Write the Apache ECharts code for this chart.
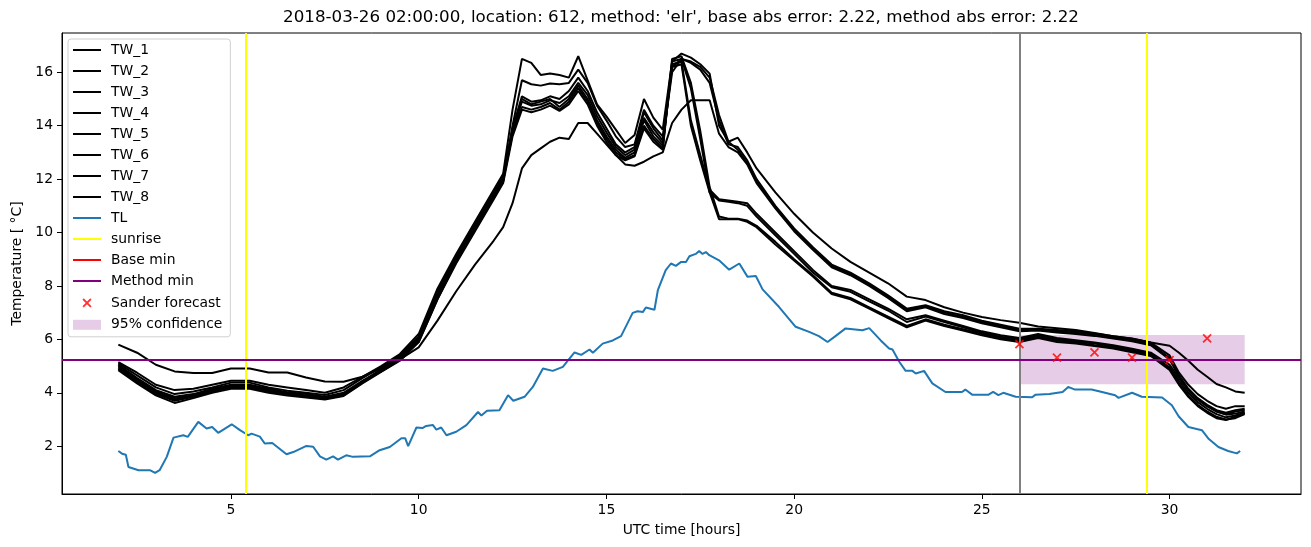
<!DOCTYPE html>
<html>
<head>
<meta charset="utf-8">
<script src="https://cdn.jsdelivr.net/npm/echarts@6/dist/echarts.min.js"></script>
<style>html,body{margin:0;padding:0;background:#fff}#c{width:1311px;height:547px}</style>
</head>
<body>
<div id="c"></div>
<script>
// ---- data ----
const hours = [2,2.5,3,3.5,4,4.5,5,5.5,6,6.5,7,7.5,8,8.5,9,9.5,
  10,10.5,11,11.5,12,
  12.25,12.5,12.75,13,13.25,13.5,13.75,14,14.25,14.5,14.75,15,15.25,15.5,15.75,16,16.25,16.5,16.75,17,17.25,17.5,17.75,18,18.25,18.5,18.75,19,
  19.5,20,20.5,21,21.5,22,22.5,23,23.5,24,24.5,25,25.5,26,26.5,27,27.5,28,28.5,29,29.5,
  30,30.25,30.5,30.75,31,31.25,31.5,31.75,32];

const TW_1 = [5.8,5.5,5.05,4.8,4.74,4.74,4.91,4.91,4.76,4.76,4.57,4.42,4.41,4.6,4.92,5.25,
  5.9,7.5,8.9,10.1,11.3,
  11.9,14.0,15.7,15.55,15.5,15.58,15.55,15.6,16.1,15.6,14.75,14.2,13.6,13.2,13.3,14.6,14.0,13.6,16.2,16.5,16.35,16.1,15.6,14.2,13.3,13.2,12.7,12.0,
  11.0,10.15,9.45,8.8,8.5,8.1,7.65,7.15,7.28,7.05,6.9,6.7,6.55,6.4,6.4,6.35,6.3,6.22,6.12,6.02,5.88,
  5.4,4.75,4.3,3.95,3.7,3.5,3.4,3.5,3.5];
const TW_2 = [5.15,4.75,4.3,4.1,4.15,4.3,4.45,4.45,4.3,4.2,4.1,4.0,4.2,4.6,5.0,5.45,
  6.2,7.9,9.2,10.4,11.6,
  12.2,14.6,16.5,16.35,15.9,15.95,15.9,15.8,16.6,15.7,14.8,14.35,13.85,13.35,13.65,15.0,14.3,13.85,16.4,16.7,16.55,16.3,15.95,14.0,13.4,13.55,13.0,12.4,
  11.5,10.7,10.0,9.4,8.9,8.5,8.1,7.6,7.47,7.2,7.0,6.84,6.72,6.62,6.48,6.42,6.35,6.24,6.12,6.03,5.88,
  5.76,5.5,5.2,4.86,4.6,4.33,4.2,4.05,4.0];
const TW_3 = [5.1,4.65,4.2,3.95,4.05,4.2,4.38,4.38,4.2,4.08,4.0,3.92,4.1,4.55,4.95,5.4,
  6.1,7.8,9.1,10.3,11.5,
  12.1,13.9,15.1,14.9,14.95,15.1,15.0,15.3,15.8,15.3,14.5,13.9,13.3,13.0,13.2,14.5,13.9,13.45,16.0,16.5,16.4,16.2,15.8,14.4,13.4,13.1,12.6,11.9,
  10.95,10.1,9.4,8.75,8.45,8.05,7.6,7.1,7.25,7.0,6.85,6.65,6.5,6.35,6.38,6.3,6.25,6.18,6.08,5.98,5.82,
  5.3,4.65,4.15,3.8,3.55,3.35,3.25,3.35,3.4];
const TW_4 = [5.05,4.55,4.1,3.85,3.95,4.15,4.3,4.3,4.15,4.02,3.95,3.85,4.0,4.45,4.85,5.25,
  5.7,6.7,7.8,8.8,9.7,
  10.2,11.1,12.4,12.9,13.15,13.4,13.55,13.5,14.1,14.1,13.7,13.3,12.9,12.55,12.5,12.65,12.85,13.0,14.1,14.6,14.95,14.95,14.95,13.7,13.2,13.0,12.55,11.85,
  10.9,10.05,9.35,8.7,8.4,8.0,7.55,7.05,7.2,6.95,6.8,6.6,6.45,6.3,6.33,6.26,6.2,6.13,6.03,5.93,5.78,
  5.25,4.6,4.1,3.75,3.5,3.3,3.2,3.3,3.35];
const TW_5 = [5.0,4.5,4.05,3.8,3.9,4.1,4.25,4.25,4.1,3.98,3.9,3.82,3.95,4.4,4.85,5.3,
  6.0,7.7,9.0,10.2,11.4,
  12.0,13.8,14.9,14.75,14.8,14.95,14.85,15.1,15.6,15.15,14.35,13.75,13.2,12.9,13.1,14.3,13.75,13.35,16.3,16.4,14.2,12.9,11.6,11.25,11.2,11.15,11.1,10.7,
  10.0,9.3,8.6,8.0,7.85,7.5,7.15,6.75,6.9,6.7,6.5,6.3,6.15,6.05,6.2,6.05,5.97,5.88,5.78,5.65,5.5,
  5.05,4.55,4.1,3.75,3.5,3.3,3.18,3.22,3.3];
const TW_6 = [4.95,4.45,4.0,3.75,3.88,4.08,4.22,4.22,4.08,3.96,3.87,3.8,3.92,4.42,4.88,5.35,
  6.05,7.75,9.05,10.25,11.45,
  12.05,13.85,15.0,14.8,14.9,15.0,14.7,15.0,15.5,15.0,14.2,13.6,13.1,12.8,13.0,14.2,13.6,13.25,16.2,16.3,14.0,12.7,11.5,11.2,11.15,11.1,11.0,10.6,
  9.9,9.2,8.5,7.95,7.78,7.42,7.08,6.65,6.85,6.65,6.45,6.25,6.1,6.0,6.15,6.0,5.92,5.84,5.74,5.6,5.45,
  4.95,4.45,4.0,3.65,3.4,3.2,3.08,3.15,3.25];
const TW_7 = [4.9,4.4,3.95,3.7,3.85,4.05,4.2,4.2,4.05,3.95,3.85,3.78,3.9,4.38,4.8,5.22,
  5.95,7.6,8.95,10.15,11.35,
  11.95,13.7,14.7,14.6,14.7,14.85,14.6,14.9,15.4,14.9,14.1,13.5,13.0,12.75,12.9,14.0,13.5,13.15,16.5,16.6,15.6,13.8,11.7,10.6,10.52,10.52,10.45,10.25,
  9.65,9.0,8.4,7.75,7.55,7.2,6.85,6.5,6.75,6.55,6.38,6.2,6.05,5.95,6.1,5.95,5.88,5.78,5.7,5.55,5.42,
  4.9,4.35,3.9,3.55,3.3,3.1,3.0,3.05,3.2];
const TW_8 = [4.85,4.35,3.9,3.62,3.8,4.0,4.15,4.15,4.0,3.9,3.82,3.75,3.88,4.35,4.78,5.2,
  5.9,7.5,8.85,10.05,11.25,
  11.85,13.6,14.6,14.5,14.6,14.75,14.55,14.8,15.3,14.8,14.0,13.4,12.9,12.7,12.85,13.9,13.4,13.1,16.4,16.5,15.4,13.5,11.5,10.5,10.5,10.5,10.4,10.2,
  9.55,8.95,8.35,7.7,7.5,7.15,6.8,6.45,6.7,6.5,6.33,6.15,6.0,5.9,6.05,5.9,5.84,5.75,5.66,5.52,5.38,
  4.85,4.3,3.85,3.5,3.25,3.05,2.98,3.1,3.25];

const tlHours = [2.0,2.1,2.2,2.27,2.54,2.84,2.98,3.1,3.29,3.47,3.73,3.85,4.13,4.35,4.5,4.66,5.02,5.24,5.46,5.55,5.77,5.9,6.1,6.48,6.66,7.01,7.19,7.37,7.54,7.72,7.85,8.07,8.25,8.7,8.96,9.23,9.54,9.64,9.72,9.94,10.1,10.2,10.38,10.47,10.6,10.74,11.0,11.27,11.58,11.67,11.82,12.15,12.38,12.52,12.82,13.04,13.31,13.57,13.84,13.93,14.15,14.33,14.55,14.64,14.9,15.17,15.39,15.7,15.83,15.97,16.05,16.28,16.37,16.58,16.72,16.85,16.99,17.12,17.21,17.38,17.47,17.56,17.65,17.74,18.0,18.27,18.54,18.76,18.98,19.16,19.6,20.04,20.4,20.66,20.89,21.1,21.37,21.82,22.0,22.3,22.53,22.62,22.8,22.97,23.15,23.24,23.46,23.68,24.03,24.47,24.56,24.74,25.18,25.3,25.44,25.57,25.9,26.34,26.43,26.8,27.15,27.3,27.48,27.92,28.2,28.55,28.64,29.0,29.26,29.8,30.06,30.24,30.5,30.86,31.03,31.3,31.56,31.79,31.88];
const tlTemps = [1.82,1.72,1.68,1.22,1.1,1.1,1.0,1.1,1.6,2.32,2.41,2.35,2.91,2.66,2.72,2.5,2.82,2.6,2.41,2.47,2.36,2.1,2.12,1.7,1.78,2.01,1.98,1.62,1.5,1.62,1.5,1.66,1.6,1.62,1.85,1.97,2.3,2.3,2.0,2.7,2.68,2.76,2.79,2.62,2.7,2.41,2.54,2.79,3.28,3.15,3.33,3.35,3.91,3.7,3.85,4.22,4.91,4.82,4.97,5.13,5.51,5.42,5.62,5.5,5.84,5.96,6.12,6.99,7.05,7.02,7.19,7.11,7.84,8.59,8.84,8.75,8.9,8.9,9.11,9.2,9.31,9.2,9.27,9.15,8.96,8.61,8.84,8.34,8.37,7.87,7.21,6.47,6.28,6.12,5.9,6.12,6.41,6.34,6.42,5.97,5.66,5.62,5.16,4.82,4.82,4.72,4.82,4.35,4.03,4.03,4.12,3.93,3.93,4.03,3.91,4.0,3.85,3.83,3.93,3.95,4.03,4.22,4.12,4.12,4.03,3.91,3.81,4.0,3.85,3.82,3.53,3.12,2.72,2.6,2.29,1.97,1.82,1.73,1.82];

const sunriseHours = [5.4, 29.4];
const forecastStartHour = 26;
const baseMinTemp = 5.22;
const methodMinTemp = 5.22;
const sanderHours = [26, 27, 28, 29, 30, 31];
const sanderTemps = [5.82, 5.32, 5.51, 5.32, 5.22, 6.04];
const confHours = [26, 32];
const confTemps = [4.32, 6.16];

const xTicks = [5, 10, 15, 20, 25, 30];
const yTicks = [2, 4, 6, 8, 10, 12, 14, 16];

const twNames = ['TW_1','TW_2','TW_3','TW_4','TW_5','TW_6','TW_7','TW_8'];
const twData = [TW_1, TW_2, TW_3, TW_4, TW_5, TW_6, TW_7, TW_8];
const titleText = "2018-03-26 02:00:00, location: 612, method: 'elr', base abs error: 2.22, method abs error: 2.22";

// ---- chart ----
const FONT = 'DejaVu Sans';
const chart = echarts.init(document.getElementById('c'), null, {renderer: 'canvas'});
const pairs = (xs, ys) => xs.map((x, i) => [x, ys[i]]);
const xMark = 'path://M0,0L10,10M10,0L0,10';
const xMarkLegend = 'path://M-4,-4M14,14M0,0L10,10M10,0L0,10';
const lineIcon = 'path://M0,0L28,0L28,2L0,2Z';
const patchIcon = 'path://M0,0L28,0L28,10L0,10Z';

const series = [];
twNames.forEach((n, i) => {
  series.push({name: n, type: 'line', data: pairs(hours, twData[i]), showSymbol: false, symbol: 'none',
    lineStyle: {color: '#000', width: 2}, itemStyle: {color: '#000'}, z: 2});
});
series.push({name: 'TL', type: 'line', data: pairs(tlHours, tlTemps), showSymbol: false, symbol: 'none',
  lineStyle: {color: '#1f77b4', width: 2}, itemStyle: {color: '#1f77b4'}, z: 3});
series.push({name: '95% confidence', type: 'line', data: [], symbol: 'none',
  itemStyle: {color: 'rgba(128,0,128,0.2)'}, lineStyle: {color: 'rgba(128,0,128,0.2)'}, z: 1,
  markArea: {silent: true, itemStyle: {color: 'rgba(128,0,128,0.2)'},
    data: [[{xAxis: confHours[0], yAxis: confTemps[0]}, {xAxis: confHours[1], yAxis: confTemps[1]}]]}});
series.push({name: 'sunrise', type: 'line', data: [], symbol: 'none',
  lineStyle: {color: '#ffff00', width: 2}, itemStyle: {color: '#ffff00'}, z: 4,
  markLine: {silent: true, symbol: ['none','none'], label: {show: false}, lineStyle: {color: '#ffff00', width: 2, type: 'solid'},
    data: sunriseHours.map(h => ({xAxis: h}))}});
series.push({name: 'forecast start', type: 'line', data: [], symbol: 'none', z: 4,
  markLine: {silent: true, symbol: ['none','none'], label: {show: false}, lineStyle: {color: '#808080', width: 2, type: 'solid'},
    data: [{xAxis: forecastStartHour}]}});
series.push({name: 'Base min', type: 'line', data: [], symbol: 'none',
  lineStyle: {color: '#ff0000', width: 2}, itemStyle: {color: '#ff0000'}, z: 5,
  markLine: {silent: true, symbol: ['none','none'], label: {show: false}, lineStyle: {color: '#ff0000', width: 2, type: 'solid'},
    data: [{yAxis: baseMinTemp}]}});
series.push({name: 'Method min', type: 'line', data: [], symbol: 'none',
  lineStyle: {color: '#800080', width: 2}, itemStyle: {color: '#800080'}, z: 6,
  markLine: {silent: true, symbol: ['none','none'], label: {show: false}, lineStyle: {color: '#800080', width: 2, type: 'solid'},
    data: [{yAxis: methodMinTemp}]}});
series.push({name: 'Sander forecast', type: 'scatter', data: pairs(sanderHours, sanderTemps),
  symbol: xMark, symbolSize: 8, itemStyle: {color: 'rgba(0,0,0,0)', borderColor: '#ff0000', borderWidth: 1.8}, z: 7});

const legendColors = {TW_1: '#000', TW_2: '#000', TW_3: '#000', TW_4: '#000', TW_5: '#000', TW_6: '#000', TW_7: '#000', TW_8: '#000',
  TL: '#1f77b4', sunrise: '#ffff00', 'Base min': '#ff0000', 'Method min': '#800080'};
const legendNames = [...twNames, 'TL', 'sunrise', 'Base min', 'Method min', 'Sander forecast', '95% confidence'];
const legendData = legendNames.map(n => {
  if (n === 'Sander forecast') return {name: n, icon: xMarkLegend, itemStyle: {color: 'rgba(0,0,0,0)', borderColor: '#ff0000', borderWidth: 1.8}};
  if (n === '95% confidence') return {name: n, icon: patchIcon, itemStyle: {color: 'rgba(128,0,128,0.2)', borderWidth: 0}};
  return {name: n, icon: lineIcon, itemStyle: {color: legendColors[n], borderWidth: 0}};
});

chart.setOption({
  animation: false,
  backgroundColor: '#fff',
  title: {text: titleText, left: 676, top: 4, textAlign: 'center',
    textStyle: {fontSize: 16.7, fontWeight: 'normal', fontFamily: FONT, color: '#000'}},
  grid: {left: 62, right: 10, top: 33, bottom: 53, show: true, borderColor: '#000', borderWidth: 1, backgroundColor: 'transparent'},
  legend: {orient: 'vertical', left: 68, top: 39, padding: [4, 8, 5, 5], itemGap: 7, itemWidth: 28, itemHeight: 14,
    symbolKeepAspect: true,
    backgroundColor: '#fff', borderColor: '#d0d0d0', borderWidth: 1, borderRadius: 3, selectedMode: false,
    textStyle: {fontSize: 13.9, color: '#000', fontFamily: FONT, padding: [0, 0, 0, 5]},
    data: legendData},
  xAxis: {type: 'value', min: 0.5, max: 33.5,
    name: 'UTC time [hours]', nameLocation: 'middle', nameGap: 29,
    nameTextStyle: {fontSize: 13.9, fontFamily: FONT, color: '#000'},
    axisLine: {show: true, lineStyle: {color: '#000', width: 1}},
    axisTick: {show: true, length: 5, lineStyle: {color: '#000'}, customValues: xTicks},
    axisLabel: {margin: 9, fontSize: 13.9, fontFamily: FONT, color: '#000', customValues: xTicks},
    splitLine: {show: false}},
  yAxis: {type: 'value', min: 0.21, max: 17.47,
    name: 'Temperature [ °C]', nameLocation: 'middle', nameGap: 37, nameRotate: 90,
    nameTextStyle: {fontSize: 13.9, fontFamily: FONT, color: '#000'},
    axisLine: {show: true, lineStyle: {color: '#000', width: 1}},
    axisTick: {show: true, length: 5, lineStyle: {color: '#000'}, customValues: yTicks},
    axisLabel: {margin: 9, fontSize: 13.9, fontFamily: FONT, color: '#000', customValues: yTicks},
    splitLine: {show: false}},
  series: series
});
</script>
</body>
</html>
